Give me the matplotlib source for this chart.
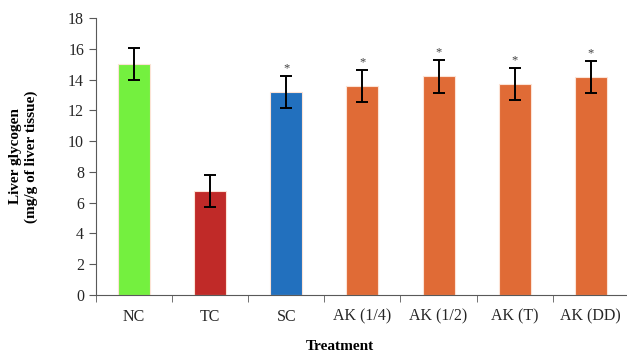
import matplotlib
matplotlib.use("Agg")
import matplotlib.pyplot as plt
import numpy as np

groups = ["NC", "TC", "SC", "AK (1/4)", "AK (1/2)", "AK (T)", "AK (DD)"]
glycogen = [15.0, 6.75, 13.2, 13.6, 14.2, 13.7, 14.15]
sem = [1.05, 1.05, 1.05, 1.05, 1.05, 1.05, 1.05]
significant = [False, False, True, True, True, True, True]
colors = ["#74F03F", "#C02A28", "#2270BE", "#E06B36", "#E06B36", "#E06B36", "#E06B36"]

plt.rcParams["font.family"] = ["Liberation Serif", "DejaVu Serif"]

fig = plt.figure(figsize=(6.27, 3.54), dpi=100)
ax = fig.add_axes([0.153, 0.167, 0.85, 0.782])

x = np.arange(len(groups))
ax.bar(x, glycogen, width=0.42, color=colors, edgecolor="#FCE3D6", linewidth=0.8,
       yerr=sem, error_kw=dict(ecolor="black", elinewidth=1.4, capsize=4, capthick=1.4))

for xi, v, e, s in zip(x, glycogen, sem, significant):
    if s:
        ax.text(xi, v + e + 0.1, "*", ha="center", va="bottom", fontsize=9, color="#404040")

ax.set_xlim(-0.5, 6.5)
ax.set_ylim(0, 18)
ax.set_yticks(range(0, 19, 2))
ax.set_xticks(x)
ax.set_xticklabels(groups, fontsize=11.5)
ax.tick_params(axis="x", length=0, pad=10)
ax.set_xticks(np.arange(-0.5, 7, 1), minor=True)
ax.tick_params(axis="x", which="minor", length=5, color="#595959", direction="out")
ax.tick_params(axis="y", labelsize=11.5, length=5, color="#595959", colors="#262626")
ax.tick_params(axis="x", colors="#262626")

for side in ["top", "right"]:
    ax.spines[side].set_visible(False)
for side in ["left", "bottom"]:
    ax.spines[side].set_color("#595959")

ax.set_ylabel("Liver glycogen\n(mg/g of liver tissue)", fontsize=11, fontweight="bold", labelpad=22)
fig.text(340 / 627, 1 / 354, "Treatment", ha="center", va="bottom", fontsize=11, fontweight="bold")

fig.savefig("out.png", dpi=100)
